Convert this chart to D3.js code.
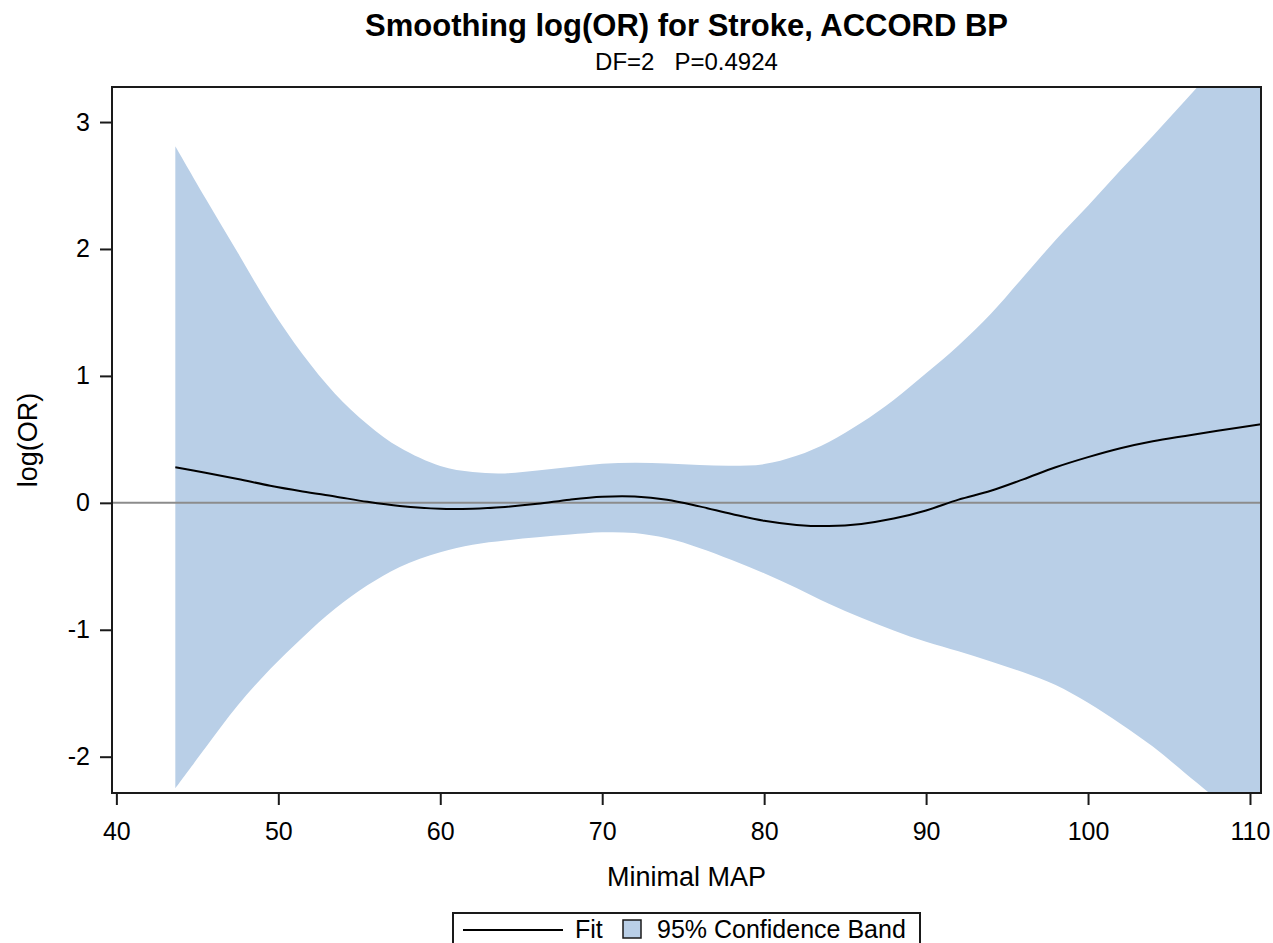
<!DOCTYPE html>
<html>
<head>
<meta charset="utf-8">
<script src="https://cdn.jsdelivr.net/npm/d3@7"></script>
<style>
  body { margin: 0; background: #fff; }
  text { font-family: "Liberation Sans", Arial, sans-serif; fill: #000; }
</style>
</head>
<body>
<svg id="chart" width="1273" height="943"></svg>
<script>
// values
let mapX  = [43.64, 45.5, 47.5, 49.5, 51.5, 53.5, 55.5, 57.5, 60, 62, 64, 66, 68, 70, 72, 74, 76, 78, 80, 82, 84, 86, 88, 90, 92, 94, 96, 98, 100, 102, 104, 106, 108, 110.68]
let fitY  = [0.28, 0.237, 0.188, 0.135, 0.09, 0.05, 0.008, -0.025, -0.047, -0.046, -0.032, -0.008, 0.025, 0.048, 0.05, 0.025, -0.028, -0.088, -0.142, -0.174, -0.183, -0.166, -0.124, -0.06, 0.025, 0.095, 0.185, 0.28, 0.36, 0.43, 0.485, 0.527, 0.567, 0.62]
let lowY  = [-2.25, -1.93, -1.595, -1.31, -1.06, -0.835, -0.65, -0.505, -0.39, -0.33, -0.297, -0.272, -0.25, -0.232, -0.238, -0.28, -0.355, -0.45, -0.555, -0.67, -0.795, -0.905, -1.005, -1.095, -1.17, -1.25, -1.335, -1.435, -1.575, -1.74, -1.92, -2.13, -2.34, -2.62]
let upY   = [2.81, 2.4, 1.97, 1.54, 1.17, 0.86, 0.62, 0.435, 0.29, 0.242, 0.232, 0.255, 0.283, 0.308, 0.316, 0.31, 0.299, 0.293, 0.305, 0.37, 0.48, 0.63, 0.81, 1.02, 1.24, 1.49, 1.78, 2.07, 2.34, 2.62, 2.89, 3.17, 3.45, 3.82]
let xTicks = [40, 50, 60, 70, 80, 90, 100, 110]
let yTicks = [-2, -1, 0, 1, 2, 3]

let title = "Smoothing log(OR) for Stroke, ACCORD BP"
let subtitle = "DF=2   P=0.4924"

let svg = d3.select("#chart")
let plot = { left: 112, right: 1261, top: 87, bottom: 793 }

let x = d3.scaleLinear().domain([39.73, 110.68]).range([plot.left, plot.right])
let y = d3.scaleLinear().domain([-2.286, 3.276]).range([plot.bottom, plot.top])

let rows = mapX.map((d, i) => ({ x: d, fit: fitY[i], lo: lowY[i], hi: upY[i] }))

svg.append("clipPath").attr("id", "clip")
  .append("rect")
  .attr("x", plot.left).attr("y", plot.top)
  .attr("width", plot.right - plot.left).attr("height", plot.bottom - plot.top)

let g = svg.append("g").attr("clip-path", "url(#clip)")

let band = d3.area()
  .x(d => x(d.x))
  .y0(d => y(d.lo))
  .y1(d => y(d.hi))
  .curve(d3.curveCatmullRom.alpha(0.5))

g.append("path")
  .datum(rows)
  .attr("d", band)
  .attr("fill", "#b9cfe7")

// reference line at 0
g.append("line")
  .attr("x1", plot.left).attr("x2", plot.right)
  .attr("y1", y(0)).attr("y2", y(0))
  .attr("stroke", "#8c8c8c")
  .attr("stroke-width", 2)

let fitLine = d3.line()
  .x(d => x(d.x))
  .y(d => y(d.fit))
  .curve(d3.curveCatmullRom.alpha(0.5))

g.append("path")
  .datum(rows)
  .attr("d", fitLine)
  .attr("fill", "none")
  .attr("stroke", "#000")
  .attr("stroke-width", 2)

// frame
svg.append("rect")
  .attr("x", plot.left).attr("y", plot.top)
  .attr("width", plot.right - plot.left).attr("height", plot.bottom - plot.top)
  .attr("fill", "none")
  .attr("stroke", "#1a1a1a")
  .attr("stroke-width", 2)

let xAxis = svg.append("g")
  .attr("transform", `translate(0,${plot.bottom})`)
  .call(d3.axisBottom(x).tickValues(xTicks).tickSize(12).tickSizeOuter(0).tickPadding(17).tickFormat(d => String(d)))
xAxis.select(".domain").remove()

let yAxis = svg.append("g")
  .attr("transform", `translate(${plot.left},0)`)
  .call(d3.axisLeft(y).tickValues(yTicks).tickSize(12).tickSizeOuter(0).tickPadding(10).tickFormat(d => String(d)))
yAxis.select(".domain").remove()

svg.selectAll(".tick line").attr("stroke", "#1a1a1a").attr("stroke-width", 2)
svg.selectAll(".tick text")
  .attr("font-size", "25px")
  .attr("font-family", "Liberation Sans, Arial, sans-serif")
  .attr("fill", "#000")

let cx = (plot.left + plot.right) / 2

svg.append("text")
  .attr("x", cx).attr("y", 36)
  .attr("text-anchor", "middle")
  .attr("font-size", "31px")
  .attr("font-weight", "bold")
  .text(title)

svg.append("text")
  .attr("x", cx).attr("y", 70)
  .attr("text-anchor", "middle")
  .attr("font-size", "24px")
  .style("white-space", "pre")
  .text(subtitle)

svg.append("text")
  .attr("x", cx).attr("y", 886)
  .attr("text-anchor", "middle")
  .attr("font-size", "27px")
  .text("Minimal MAP")

svg.append("text")
  .attr("transform", `translate(37,${(plot.top + plot.bottom) / 2}) rotate(-90)`)
  .attr("text-anchor", "middle")
  .attr("font-size", "27px")
  .text("log(OR)")

// legend
let leg = svg.append("g")
leg.append("rect")
  .attr("x", 453).attr("y", 913)
  .attr("width", 467).attr("height", 40)
  .attr("fill", "none")
  .attr("stroke", "#1a1a1a")
  .attr("stroke-width", 2)
leg.append("line")
  .attr("x1", 463).attr("x2", 563)
  .attr("y1", 930).attr("y2", 930)
  .attr("stroke", "#000").attr("stroke-width", 2)
leg.append("text")
  .attr("x", 575).attr("y", 938)
  .attr("font-size", "25px")
  .text("Fit")
leg.append("rect")
  .attr("x", 623).attr("y", 920)
  .attr("width", 18).attr("height", 18)
  .attr("fill", "#b9cfe7")
  .attr("stroke", "#1a1a1a")
  .attr("stroke-width", 1.5)
leg.append("text")
  .attr("x", 657).attr("y", 938)
  .attr("font-size", "25px")
  .text("95% Confidence Band")
</script>
</body>
</html>
